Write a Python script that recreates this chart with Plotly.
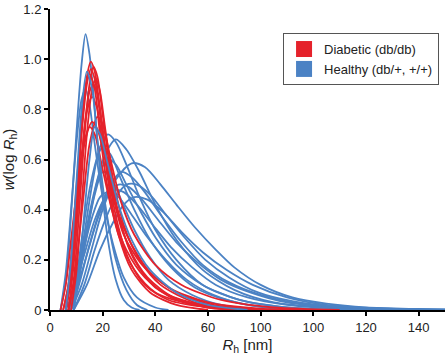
import plotly.graph_objects as go

# ---- data: hydrodynamic radius distributions ----
# Diabetic (db/db) curves: (R_h [nm], w(log R_h))
red_R = [
    [6, 8, 10, 12, 14, 15.5, 17, 19, 22, 26, 30, 36, 45, 60, 75],
    [7, 9, 11, 13, 15, 16.5, 18, 20, 23, 27, 32, 40, 50, 65, 85],
    [5, 7, 9, 11, 13, 15, 17, 19, 22, 26, 32, 40, 55, 70],
    [6, 8, 10, 12, 14, 16, 18, 20, 24, 28, 35, 45, 60, 80, 95],
    [7, 9, 11, 13, 15, 18, 20, 23, 27, 32, 40, 50, 65, 85, 110],
    [5, 7, 9, 11, 13, 16, 18, 21, 25, 30, 38, 48, 62, 80],
    [4, 6, 8, 10, 12, 15, 17, 20, 24, 29, 36, 46, 60, 75],
    [6, 8, 10, 12, 14, 15.5, 17, 19, 22, 26, 31, 38, 48, 60],
    [8, 10, 12, 14, 16, 17.5, 19, 21, 24, 28, 34, 42, 55, 70],
    [7, 9, 11, 13, 15, 16.5, 18, 21, 25, 30, 37, 47, 62, 80],
]
red_W = [
    [0, 0.15, 0.42, 0.72, 0.93, 0.99, 0.95, 0.80, 0.55, 0.33, 0.20, 0.10, 0.04, 0.01, 0],
    [0, 0.12, 0.38, 0.68, 0.90, 0.97, 0.93, 0.78, 0.55, 0.34, 0.20, 0.09, 0.04, 0.01, 0],
    [0, 0.10, 0.35, 0.62, 0.86, 0.94, 0.88, 0.70, 0.48, 0.30, 0.16, 0.07, 0.02, 0],
    [0, 0.12, 0.36, 0.60, 0.79, 0.85, 0.80, 0.66, 0.45, 0.30, 0.18, 0.09, 0.03, 0.005, 0],
    [0, 0.10, 0.28, 0.48, 0.66, 0.77, 0.74, 0.60, 0.43, 0.30, 0.18, 0.10, 0.04, 0.01, 0],
    [0, 0.10, 0.30, 0.50, 0.66, 0.75, 0.72, 0.60, 0.42, 0.28, 0.15, 0.07, 0.02, 0],
    [0, 0.10, 0.28, 0.46, 0.62, 0.73, 0.70, 0.56, 0.38, 0.24, 0.13, 0.05, 0.01, 0],
    [0, 0.14, 0.40, 0.70, 0.90, 0.96, 0.92, 0.78, 0.52, 0.30, 0.16, 0.07, 0.02, 0],
    [0, 0.15, 0.42, 0.70, 0.88, 0.92, 0.87, 0.72, 0.52, 0.34, 0.20, 0.10, 0.03, 0],
    [0, 0.18, 0.45, 0.72, 0.87, 0.90, 0.86, 0.65, 0.42, 0.25, 0.13, 0.05, 0.01, 0],
]

# Healthy (db/+, +/+) curves
blue_R = [
    [4, 6, 8, 10, 12, 13.5, 15, 17, 19, 22, 25, 28, 31, 34],
    [6, 8, 10, 12, 14, 16, 18, 21, 25, 29, 33, 37],
    [4, 6, 8, 10, 12, 13.5, 15, 17, 20, 24, 28, 33, 40, 45],
    [9, 11, 13, 15, 17, 19, 22, 26, 31, 38, 48, 60, 75],
    [8, 10, 13, 16, 19, 22, 25, 29, 34, 40, 48, 58, 72, 90, 110],
    [7, 10, 13, 17, 21, 25, 29, 34, 40, 48, 58, 70, 85, 105, 130],
    [7, 10, 13, 16, 19, 22, 25, 29, 34, 40, 48, 58, 72, 90, 115],
    [8, 12, 16, 20, 25, 31, 36, 42, 48, 55, 63, 70, 80, 92, 105, 120, 140, 150],
    [8, 11, 15, 19, 23, 27, 31, 36, 42, 50, 58, 68, 80, 95, 115, 140],
    [7, 10, 14, 18, 22, 26, 30, 35, 41, 48, 56, 65, 76, 90, 110, 140],
    [6, 9, 13, 17, 21, 24, 28, 33, 39, 46, 54, 63, 75, 90, 110, 130],
    [7, 10, 13, 16, 19, 22, 26, 31, 37, 44, 52, 62, 75, 95],
    [9, 13, 17, 21, 25, 29, 33, 38, 44, 51, 59, 68, 79, 92, 110, 135, 150],
    [9, 14, 19, 24, 28, 32, 37, 43, 50, 58, 67, 77, 90, 105, 125, 150],
    [8, 10, 12, 15, 18, 20, 23, 27, 32, 38, 46, 55, 67, 82, 100],
    [9, 11, 14, 17, 20, 23, 27, 32, 38, 45, 54, 65, 80],
]
blue_W = [
    [0, 0.12, 0.38, 0.70, 0.98, 1.10, 1.02, 0.80, 0.55, 0.28, 0.12, 0.04, 0.01, 0],
    [0, 0.20, 0.50, 0.80, 0.95, 0.88, 0.68, 0.42, 0.20, 0.08, 0.02, 0],
    [0, 0.15, 0.40, 0.66, 0.84, 0.88, 0.82, 0.66, 0.45, 0.26, 0.13, 0.05, 0.01, 0],
    [0, 0.15, 0.38, 0.60, 0.73, 0.70, 0.58, 0.42, 0.28, 0.16, 0.07, 0.02, 0],
    [0, 0.10, 0.30, 0.50, 0.65, 0.70, 0.67, 0.58, 0.45, 0.32, 0.20, 0.10, 0.04, 0.01, 0],
    [0, 0.10, 0.28, 0.48, 0.62, 0.68, 0.64, 0.55, 0.42, 0.28, 0.16, 0.08, 0.03, 0.01, 0],
    [0, 0.10, 0.26, 0.42, 0.55, 0.60, 0.58, 0.50, 0.40, 0.29, 0.18, 0.10, 0.04, 0.01, 0],
    [0, 0.10, 0.25, 0.40, 0.52, 0.585, 0.57, 0.50, 0.42, 0.33, 0.24, 0.17, 0.10, 0.05, 0.025, 0.01, 0.004, 0.002],
    [0, 0.10, 0.26, 0.40, 0.50, 0.55, 0.53, 0.47, 0.38, 0.27, 0.18, 0.11, 0.06, 0.025, 0.008, 0.002],
    [0, 0.08, 0.22, 0.36, 0.46, 0.50, 0.49, 0.44, 0.36, 0.27, 0.19, 0.12, 0.07, 0.03, 0.01, 0.002],
    [0, 0.08, 0.22, 0.36, 0.45, 0.48, 0.47, 0.42, 0.34, 0.25, 0.17, 0.10, 0.05, 0.02, 0.005, 0],
    [0, 0.10, 0.25, 0.37, 0.45, 0.47, 0.45, 0.38, 0.29, 0.20, 0.12, 0.06, 0.02, 0],
    [0, 0.10, 0.24, 0.36, 0.45, 0.50, 0.50, 0.46, 0.38, 0.29, 0.20, 0.13, 0.07, 0.035, 0.012, 0.003, 0.001],
    [0, 0.10, 0.24, 0.35, 0.42, 0.45, 0.44, 0.39, 0.31, 0.23, 0.16, 0.10, 0.05, 0.02, 0.006, 0.001],
    [0, 0.12, 0.28, 0.48, 0.61, 0.65, 0.62, 0.52, 0.40, 0.28, 0.17, 0.09, 0.04, 0.01, 0],
    [0, 0.12, 0.30, 0.46, 0.55, 0.53, 0.44, 0.32, 0.21, 0.12, 0.06, 0.02, 0],
]

x_tick_vals = [0, 20, 40, 60, 80, 100, 120, 140]
x_tick_text = ["0", "20", "40", "60", "100", "100", "120", "140"]
y_tick_vals = [0, 0.2, 0.4, 0.6, 0.8, 1.0, 1.2]
y_tick_text = ["0", "0.2", "0.4", "0.6", "0.8", "1.0", "1.2"]

legend_names = ["Diabetic (db/db)", "Healthy (db/+, +/+)"]

RED = "#e5222b"
BLUE = "#4b82c4"

fig = go.Figure()

def add_curve(xs, ys, color):
    fig.add_trace(go.Scatter(
        x=xs, y=ys, mode="lines",
        line=dict(color=color, width=1.8, shape="spline", smoothing=0.8),
        showlegend=False, hoverinfo="skip"))

# most blue first, red on top, then a few blue on top
for i in range(len(blue_R)):
    if i not in (3, 1):
        add_curve(blue_R[i], blue_W[i], BLUE)
for i in range(len(red_R)):
    add_curve(red_R[i], red_W[i], RED)
for i in (3, 1):
    add_curve(blue_R[i], blue_W[i], BLUE)

# legend entries with square swatches
for name, color in zip(legend_names, [RED, BLUE]):
    fig.add_trace(go.Scatter(
        x=[None], y=[None], mode="markers", name=name,
        marker=dict(symbol="square", size=16, color=color)))

font_family = "Liberation Sans, Arial, Helvetica, sans-serif"

fig.update_layout(
    width=446, height=355,
    margin=dict(l=50, r=1, t=9, b=45),
    paper_bgcolor="white", plot_bgcolor="white",
    font=dict(family=font_family, size=13, color="#222222"),
    showlegend=True,
    legend=dict(
        x=0.59, y=0.92, xanchor="left", yanchor="top",
        bgcolor="white", bordercolor="#555555", borderwidth=1,
        font=dict(size=13, color="#222222"),
        tracegroupgap=0, itemwidth=30,
    ),
    xaxis=dict(
        range=[0, 150], tickvals=x_tick_vals, ticktext=x_tick_text,
        showgrid=False, zeroline=False,
        showline=True, linecolor="black", linewidth=2,
        ticks="outside", ticklen=4, tickwidth=1.5, tickcolor="black",
        tickfont=dict(size=13, color="#222222"),
        title=dict(text="<i>R</i><sub>h</sub> [nm]", font=dict(size=15), standoff=8),
    ),
    yaxis=dict(
        range=[0, 1.2], tickvals=y_tick_vals, ticktext=y_tick_text,
        showgrid=False, zeroline=False,
        showline=True, linecolor="black", linewidth=2,
        ticks="outside", ticklen=4, tickwidth=1.5, tickcolor="black",
        tickfont=dict(size=13, color="#222222"),
        title=dict(text="<i>w</i>(log <i>R</i><sub>h</sub>)", font=dict(size=15), standoff=6),
    ),
)

fig.write_html("out.html", config={"displayModeBar": False},
               post_script="document.body.style.margin='0';")
